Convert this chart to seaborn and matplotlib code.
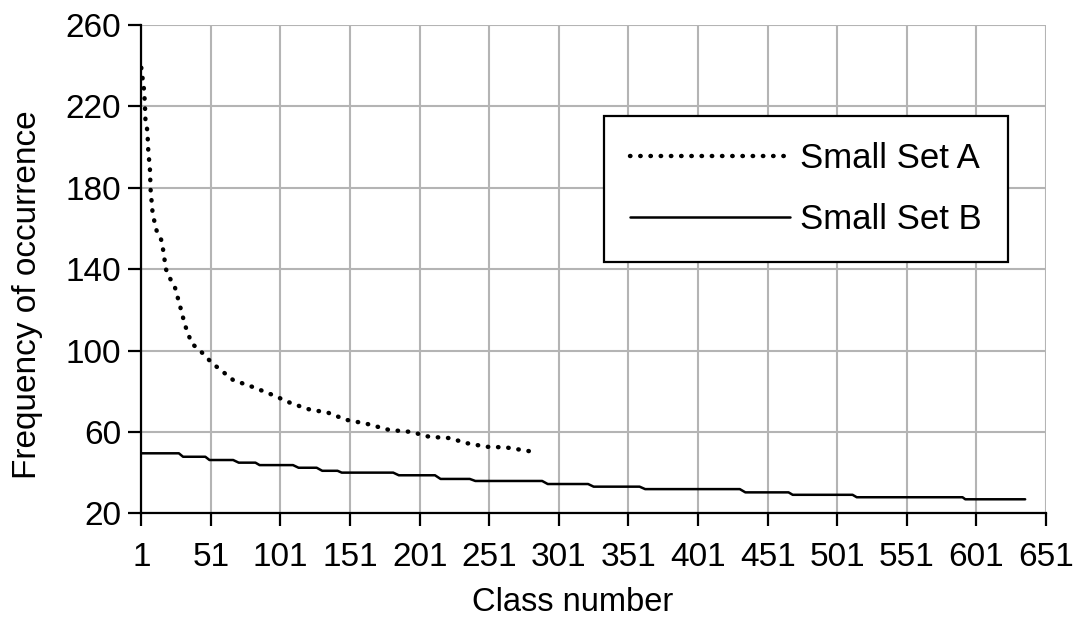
import matplotlib
matplotlib.use("Agg")
import matplotlib.pyplot as plt
import numpy as np
import pandas as pd
import seaborn as sns

# === data ===
# Small Set A (dotted curve): class number / frequency
A_CLASS = [1, 3, 3.6, 4, 5.4, 6, 7.2, 7.7, 9.2, 12, 15.6, 16.8, 18.7, 21.6, 25.2,
           28.8, 32.4, 37.2, 43.2, 51.6, 67, 81.5, 96, 109, 122, 135, 148, 163,
           179, 195, 208, 222, 235.5, 249, 263, 282]
A_FREQ = [239, 228, 221, 213, 208, 198.5, 189, 179, 167, 159, 154, 149, 140, 135.5, 131,
          122, 112.5, 103.5, 100, 94, 85.5, 82, 78, 74, 71, 69.5, 66, 64,
          61, 60, 57.6, 57, 54.4, 52.7, 52.4, 50.3]

# Small Set B (solid step line): corners of each step
B_CLASS = [1, 28, 31, 47, 50, 67, 71, 83, 86, 110, 114, 127, 131, 142, 145, 182,
           186, 212, 216, 237, 241, 289, 293, 322, 326, 359, 363, 431, 435, 466,
           469, 512, 515, 591, 593, 636]
B_FREQ = [49.5, 49.5, 47.8, 47.8, 46.2, 46.2, 44.9, 44.9, 43.7, 43.7, 42.4, 42.4,
          40.9, 40.9, 40.0, 40.0, 38.7, 38.7, 36.9, 36.9, 35.9, 35.9, 34.4, 34.4,
          33.1, 33.1, 31.9, 31.9, 30.3, 30.3, 29.1, 29.1, 27.9, 27.9, 26.9, 26.9]

X_TICKS = list(range(1, 652, 50))
Y_TICKS = list(range(20, 261, 40))

# === style ===
sns.set_style("whitegrid", {"grid.color": "#b4b4b4", "axes.edgecolor": "black",
                            "text.color": "black"})
plt.rcParams["font.family"] = ["Liberation Sans", "DejaVu Sans"]
plt.rcParams["grid.linewidth"] = 1.5

fig = plt.figure(figsize=(10.86, 6.21), dpi=100)
ax = fig.add_axes([0.1301, 0.1734, 0.8331, 0.7863])

df_a = pd.DataFrame({"cls": A_CLASS, "freq": A_FREQ})
df_b = pd.DataFrame({"cls": B_CLASS, "freq": B_FREQ})

sns.lineplot(data=df_a, x="cls", y="freq", ax=ax, estimator=None, sort=False,
             color="black", linewidth=3.2, linestyle=(0, (0.1, 2.2)),
             dash_capstyle="round", label="Small Set A")
sns.lineplot(data=df_b, x="cls", y="freq", ax=ax, estimator=None, sort=False,
             color="black", linewidth=1.8, label="Small Set B")

ax.set_xlim(1, 651)
ax.set_ylim(20, 260)
ax.set_xticks(X_TICKS)
ax.set_yticks(Y_TICKS)
ax.tick_params(axis="both", which="major", labelsize=24, colors="black",
               direction="out", length=9.5, width=1.6, bottom=True, left=True)
ax.tick_params(axis="x", pad=11)
ax.tick_params(axis="y", pad=5)

for side in ["top", "right"]:
    ax.spines[side].set_visible(False)
for side in ["left", "bottom"]:
    ax.spines[side].set_color("black")
    ax.spines[side].set_linewidth(1.6)

ax.set_xlabel("Class number", fontsize=23.5, color="black")
ax.set_ylabel("Frequency of occurrence", fontsize=24, color="black")
# labels in the reference sit a bit off-centre
ax.xaxis.set_label_coords(0.4766, -0.151)
ax.yaxis.set_label_coords(-0.1087, 0.447)

leg = ax.legend(loc="upper right", bbox_to_anchor=(0.958, 0.814), borderaxespad=0,
                fontsize=25, handlelength=4.6, handletextpad=0.3, borderpad=0.75,
                labelspacing=0.8, fancybox=False, framealpha=1, edgecolor="black")
leg.get_frame().set_linewidth(1.6)
for t in leg.get_texts():
    t.set_color("black")

fig.savefig("out.png", dpi=100)
